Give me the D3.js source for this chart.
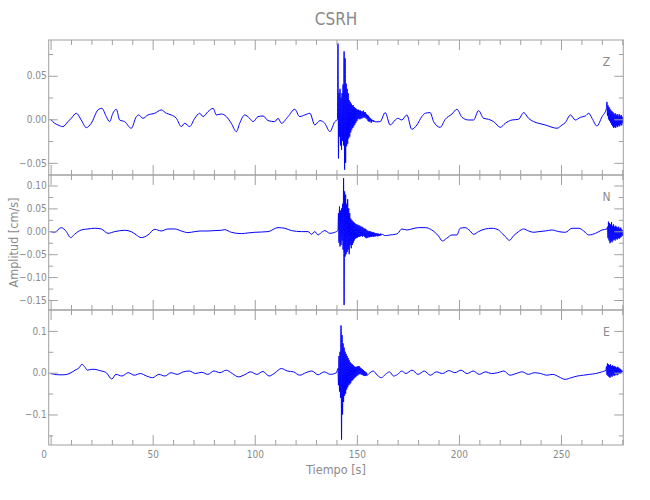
<!DOCTYPE html>
<html>
<head>
<meta charset="utf-8">
<script src="https://cdn.jsdelivr.net/npm/d3@7"></script>
<style>
  html, body { margin: 0; padding: 0; background: #fff; }
  svg text { font-family: 'DejaVu Sans Condensed', 'DejaVu Sans', sans-serif; font-stretch: condensed; fill: #8a8a8a; }
</style>
</head>
<body>
<svg id="chart" width="650" height="500"></svg>
<script>
// ---------------- DATA ----------------
const title = "CSRH";
const xLabel = "Tiempo [s]";
const yLabel = "Amplitud [cm/s]";
const channels = ["Z", "N", "E"];

const xMajorTicks = [0, 50, 100, 150, 200, 250];
const xMinorTicks = [10, 20, 30, 40, 60, 70, 80, 90, 110, 120, 130, 140, 160, 170, 180, 190, 210, 220, 230, 240, 260, 270, 280];

const zMajorTicks = [0.05, 0.00, -0.05];
const zMinorTicks = [0.075, 0.025, -0.025];
const nMajorTicks = [0.10, 0.05, 0.00, -0.05, -0.10, -0.15];
const nMinorTicks = [0.075, 0.025, -0.025, -0.075, -0.125];
const eMajorTicks = [0.1, 0.0, -0.1];
const eMinorTicks = [0.05, -0.05, -0.15];

const zRange = [-0.064, 0.0911];
const nRange = [-0.1718, 0.1229];
const eRange = [-0.173, 0.150];

const sampleStep = 0.25; // s, spacing of densely read segments

// Z component
const zPreT = [0, 2, 3.6, 6, 8.5, 10.1, 12.6, 15, 17.5, 19.9, 23.2, 25.1, 27.3, 28.9, 30.5, 32.2, 33.8, 36.3, 39.5, 42, 43.1, 45.2, 47.7, 51, 54.2, 56.7, 59.1, 61.6, 64, 65.7, 68.1, 70.6, 73, 74.7, 77.1, 79.6, 81.2, 83.6, 86.1, 88.5, 91, 92.6, 95.1, 97.5, 99.2, 101.6, 104.1, 106.5, 109.8, 111.4, 113.1, 116.3, 119.6, 122, 124.5, 127, 129.4, 131.9, 134.3, 136.8, 139.2];
const zPreA = [0.0, -0.0046, -0.0065, -0.0084, -0.0027, 0.0011, 0.0069, -0.0008, -0.0096, -0.0046, 0.0107, 0.0126, 0.0031, -0.0027, 0.0069, 0.0115, -0.0008, -0.0027, -0.0103, 0.0031, 0.005, 0.0011, 0.005, 0.0069, 0.0107, 0.0069, 0.005, 0.0011, -0.0084, -0.0046, -0.0084, 0.0011, 0.0069, 0.0031, 0.0088, 0.0126, 0.005, 0.0061, 0.0031, -0.0046, -0.0142, -0.0046, 0.005, 0.0011, -0.0027, 0.0031, 0.0038, -0.0015, -0.0027, 0.0011, -0.0046, 0.0031, 0.0115, 0.0031, 0.005, 0.0069, -0.0065, -0.0015, -0.0046, -0.0142, -0.0027];
const zEventStart = 140.5;
const zEvent = [0.000, 0.087, -0.045, 0.030, -0.020, 0.035, -0.030, 0.025, -0.035, 0.030, -0.025, 0.040, -0.030, 0.078, -0.058, 0.070, -0.050, 0.041, -0.031, 0.035, -0.028, 0.030, -0.022, 0.022, -0.020, 0.020, -0.015, 0.018, -0.012, 0.016, -0.010, 0.016, -0.008, 0.014, -0.006, 0.013, -0.004, 0.012, -0.002, 0.011, 0.000, 0.011, 0.001, 0.010, 0.000, 0.010, 0.001, 0.009, 0.001, 0.009, 0.002, 0.010, 0.002, 0.008, 0.002, 0.008, 0.001, 0.006, 0.000, 0.005, -0.002, 0.004, -0.003, 0.002, -0.002, 0.001, -0.004, 0.000, -0.002, -0.001, -0.003, -0.001, -0.003, -0.002, -0.003];
const zPostT = [161.4, 163.9, 166.3, 168.8, 170.1, 172, 174.5, 176.9, 179.4, 181.8, 183.5, 185.9, 187.6, 190.8, 193.3, 196.6, 199, 201.5, 204.7, 207.2, 209.6, 212.1, 214.5, 217, 220.3, 222.7, 226, 229.2, 231.7, 234.1, 236.6, 239, 242.3, 245.6, 248, 250.5, 252.1, 254.6, 257, 259.5, 261.9, 263.6, 265.2, 267.6, 270.1, 272.2];
const zPostA = [-0.0027, 0.0077, -0.0065, -0.0008, 0.0011, -0.0008, 0.005, -0.0115, -0.0065, 0.0031, 0.0069, 0.0077, -0.0027, -0.0092, 0.0, 0.0061, 0.0115, 0.0023, -0.0008, -0.0008, 0.010, 0.0011, 0.0, -0.0027, -0.0092, -0.0046, -0.0008, 0.0, 0.0077, 0.0011, -0.0027, -0.0046, -0.0065, -0.0092, -0.0103, -0.0065, -0.0038, 0.005, -0.0008, 0.0023, 0.0038, 0.0069, 0.0011, -0.0077, 0.0031, 0.012];
const zTailStart = 272.5;
const zTail = [0.020, 0.004, 0.016, 0.000, 0.014, -0.002, 0.012, -0.004, 0.010, -0.006, 0.009, -0.008, 0.008, -0.010, 0.006, -0.009, 0.007, -0.010, 0.005, -0.008, 0.006, -0.009, 0.004, -0.007, 0.006, -0.008, 0.004, -0.006, 0.005, -0.007, 0.003, -0.004, 0.001];

// N component
const nPreT = [0, 1.9, 5.2, 7.7, 9.8, 11.7, 15, 18.3, 21.6, 24.8, 28.1, 31.4, 36.3, 39.5, 42, 44.4, 47.7, 51, 54.2, 57.5, 60.8, 64, 67.3, 70.6, 73.8, 77.1, 80.4, 83.6, 85.3, 88.5, 93.5, 96.7, 100, 106.5, 111.4, 114.7, 118, 122.9, 126.1, 127.8, 129.4, 131, 132.7, 134.3, 136.8, 139.2];
const nPreA = [-0.0007, -0.0022, 0.008, -0.0007, -0.0138, -0.0066, 0.0029, 0.0051, 0.0066, 0.0051, -0.0044, -0.0007, 0.0022, -0.0007, -0.008, -0.0138, -0.008, 0.0044, 0.0007, 0.0051, 0.0051, 0.0007, -0.0029, -0.0007, 0.0007, 0.0007, 0.0015, 0.0022, 0.0036, -0.0022, -0.0051, -0.0036, -0.0022, -0.0007, 0.008, 0.0066, 0.0015, -0.0007, -0.0007, -0.0066, -0.0007, -0.008, -0.0022, 0.0015, -0.0044, -0.0022];
const nEventStart = 140.75;
const nEvent = [0.002, 0.040, -0.025, 0.054, -0.033, 0.045, -0.030, 0.050, -0.020, 0.060, -0.040, 0.116, -0.161, 0.087, -0.055, 0.080, -0.050, 0.060, -0.045, 0.070, -0.040, 0.050, -0.050, 0.040, -0.030, 0.028, -0.037, 0.025, -0.030, 0.022, -0.025, 0.020, -0.020, 0.018, -0.016, 0.016, -0.015, 0.015, -0.014, 0.014, -0.012, 0.013, -0.012, 0.012, -0.011, 0.010, -0.010, 0.010, -0.012, 0.008, -0.010, 0.006, -0.012, 0.006, -0.014, 0.004, -0.015, 0.002, -0.014, 0.001, -0.013, 0.000, -0.013, 0.000, -0.012, -0.001, -0.012, -0.002, -0.011, -0.002, -0.012, -0.003, -0.011, -0.004, -0.011, -0.004, -0.010, -0.005, -0.011, -0.005, -0.010, -0.006, -0.010, -0.005, -0.009, -0.006];
const nPostT = [163.9, 166.3, 168.8, 170.1, 172, 174.5, 176.9, 180.1, 183.5, 186.7, 190, 191.9, 194, 196.6, 199, 200.6, 203, 205.5, 207.2, 209.6, 212.9, 216.2, 219.4, 221.1, 222.7, 224.7, 226.8, 229.2, 231.7, 234.1, 236.6, 239, 242.3, 245.6, 248.9, 252.1, 255.4, 258.7, 261.1, 263.6, 266.9, 270.1, 272.5];
const nPostA = [-0.0095, -0.008, -0.0066, -0.0044, 0.0051, 0.0029, 0.0051, 0.008, 0.008, 0.0029, -0.0102, -0.0211, -0.0153, -0.008, -0.008, 0.0066, 0.008, 0.0007, -0.0066, -0.0007, 0.0051, 0.0066, 0.0029, -0.0044, -0.0116, -0.0197, -0.0095, -0.0007, 0.0051, 0.0007, -0.0022, -0.0007, 0.0007, 0.0029, -0.0007, -0.0022, 0.0066, 0.0066, 0.0007, -0.008, -0.0044, 0.0029, 0.0051];
const nTailStart = 272.75;
const nTail = [0.010, -0.015, 0.021, -0.020, 0.018, -0.026, 0.015, -0.022, 0.020, -0.024, 0.012, -0.020, 0.015, -0.018, 0.010, -0.020, 0.012, -0.016, 0.010, -0.018, 0.008, -0.015, 0.010, -0.016, 0.006, -0.014, 0.008, -0.012, 0.004, -0.010, 0.002, -0.006];

// E component
const ePreT = [0, 2, 4, 6, 8, 10, 12, 14, 15.3, 17, 18, 20, 21.7, 24, 27, 30, 32, 35, 38, 41, 44, 47, 50, 53, 56, 59, 62, 65, 68, 71, 74, 77, 80, 83, 86, 89, 92, 95, 98, 101, 104, 107, 110, 113, 116, 119, 122, 125, 128, 131, 134, 137, 140];
const ePreA = [-0.002, -0.004, -0.005, -0.005, -0.004, 0.000, 0.006, 0.012, 0.020, 0.012, 0.006, 0.008, 0.008, 0.005, 0.001, -0.015, -0.004, -0.008, 0.000, -0.006, -0.002, -0.008, -0.012, -0.004, -0.008, 0.000, -0.004, 0.002, 0.004, -0.002, 0.001, -0.004, 0.004, 0.000, 0.006, -0.002, -0.010, -0.005, 0.002, -0.004, 0.003, -0.008, 0.000, 0.010, 0.004, 0.002, -0.006, 0.000, 0.004, -0.005, 0.002, -0.004, 0.000];
const eEventStart = 140.75;
const eEvent = [0.010, -0.030, 0.040, -0.045, 0.050, -0.060, 0.113, -0.160, 0.090, -0.100, 0.070, -0.070, 0.060, -0.055, 0.050, -0.050, 0.045, -0.040, 0.040, -0.035, 0.035, -0.030, 0.030, -0.028, 0.025, -0.025, 0.022, -0.020, 0.020, -0.018, 0.018, -0.015, 0.015, -0.012, 0.014, -0.010, 0.014, -0.008, 0.015, -0.006, 0.016, -0.004, 0.015, -0.003, 0.012, -0.004, 0.010, -0.005, 0.008, -0.006, 0.006, -0.008, 0.004, -0.008, 0.002, -0.008, 0.000, -0.006];
const ePostT = [156, 158, 160, 162, 164, 166, 168, 170, 172, 174, 177, 180, 183, 186, 189, 192, 195, 198, 201, 204, 207, 210, 213, 216, 219, 222, 225, 228, 231, 234, 237, 240, 243, 246, 249, 252, 255, 258, 261, 264, 267, 270, 272];
const ePostA = [-0.002, 0.004, -0.006, -0.012, -0.004, 0.002, -0.008, -0.004, 0.004, -0.002, 0.006, -0.004, 0.004, -0.006, 0.002, -0.002, 0.005, 0.000, 0.006, -0.002, 0.004, -0.004, 0.002, -0.002, 0.000, 0.004, -0.006, -0.002, 0.002, -0.004, 0.000, -0.002, -0.006, -0.004, -0.010, -0.016, -0.012, -0.008, -0.006, -0.004, -0.002, 0.002, 0.006];
const eTailStart = 272.25;
const eTail = [0.015, -0.005, 0.022, -0.008, 0.020, -0.010, 0.018, -0.012, 0.020, -0.008, 0.016, -0.010, 0.018, -0.006, 0.015, -0.008, 0.016, -0.006, 0.014, -0.004, 0.012, -0.006, 0.014, -0.004, 0.012, -0.002, 0.010, -0.002, 0.008, 0.000, 0.006, 0.002, 0.004];

// ---------------- BUILD ----------------
function pairs(ts, as) { return ts.map((t, i) => [t, as[i]]); }
function dense(start, as) { return as.map((a, i) => [start + i * sampleStep, a]); }
function series(preT, preA, evStart, ev, postT, postA, tailStart, tail) {
  return [].concat(pairs(preT, preA), dense(evStart, ev), pairs(postT, postA), dense(tailStart, tail))
    .sort((a, b) => a[0] - b[0]);
}
const zData = series(zPreT, zPreA, zEventStart, zEvent, zPostT, zPostA, zTailStart, zTail);
const nData = series(nPreT, nPreA, nEventStart, nEvent, nPostT, nPostA, nTailStart, nTail);
const eData = series(ePreT, ePreA, eEventStart, eEvent, ePostT, ePostA, eTailStart, eTail);

const panels = [
  { name: channels[0], data: zData, range: zRange, major: zMajorTicks, minor: zMinorTicks, fmt: d3.format(".2f") },
  { name: channels[1], data: nData, range: nRange, major: nMajorTicks, minor: nMinorTicks, fmt: d3.format(".2f") },
  { name: channels[2], data: eData, range: eRange, major: eMajorTicks, minor: eMinorTicks, fmt: d3.format(".1f") }
];

const svg = d3.select("#chart");
const left = 48.7, right = 623.3, top0 = 40, panelH = 135;
const frameColor = "#a0a0a0";
const x = d3.scaleLinear().domain([-0.93, 280.5]).range([left, right]);
const fmtMinus = s => s.replace("-", "\u2212");

panels.forEach((p, i) => {
  const y0 = top0 + i * panelH, y1 = y0 + panelH;
  const y = d3.scaleLinear().domain(p.range).range([y1, y0]);
  const g = svg.append("g");

  const cid = "clip" + i;
  svg.append("clipPath").attr("id", cid).append("rect")
    .attr("x", left).attr("y", y0).attr("width", right - left).attr("height", panelH);

  g.append("path").datum(p.data)
    .attr("clip-path", `url(#${cid})`)
    .attr("fill", "none").attr("stroke", "#0000ff").attr("stroke-width", 1)
    .attr("stroke-linejoin", "round")
    .attr("d", d3.line().curve(d3.curveMonotoneX).x(d => x(d[0])).y(d => y(d[1])));

  g.append("g").attr("transform", `translate(${left},0)`)
    .call(d3.axisLeft(y).tickValues(p.major).tickSize(-9).tickPadding(2).tickFormat(d => fmtMinus(p.fmt(d))));
  g.append("g").attr("transform", `translate(${left},0)`)
    .call(d3.axisLeft(y).tickValues(p.minor).tickSize(-4.5).tickFormat(""));
  g.append("g").attr("transform", `translate(${right},0)`)
    .call(d3.axisRight(y).tickValues(p.major).tickSize(-9).tickFormat(""));
  g.append("g").attr("transform", `translate(${right},0)`)
    .call(d3.axisRight(y).tickValues(p.minor).tickSize(-4.5).tickFormat(""));

  const xb = g.append("g").attr("transform", `translate(0,${y1})`)
    .call(d3.axisBottom(x).tickValues(xMajorTicks).tickSize(-10).tickPadding(6)
      .tickFormat(i === panels.length - 1 ? d3.format("d") : ""));
  g.append("g").attr("transform", `translate(0,${y1})`)
    .call(d3.axisBottom(x).tickValues(xMinorTicks).tickSize(-5).tickFormat(""));
  g.append("g").attr("transform", `translate(0,${y0})`)
    .call(d3.axisTop(x).tickValues(xMajorTicks).tickSize(-10).tickFormat(""));
  g.append("g").attr("transform", `translate(0,${y0})`)
    .call(d3.axisTop(x).tickValues(xMinorTicks).tickSize(-5).tickFormat(""));

  if (i === panels.length - 1) {
    xb.selectAll(".tick text").filter(d => d === 0).attr("dx", -7);
  }

  g.append("rect").attr("x", left).attr("y", y0).attr("width", right - left).attr("height", panelH)
    .attr("fill", "none").attr("stroke", frameColor).attr("stroke-width", 1);

  g.append("text").attr("x", 606.5).attr("y", y0 + 25.7).attr("text-anchor", "middle")
    .attr("font-size", 12).text(p.name);
});

svg.selectAll(".domain").remove();
svg.selectAll(".tick line").attr("stroke", frameColor);
svg.selectAll(".tick text").attr("font-size", 10).attr("fill", "#8a8a8a")
  .attr("font-family", "'DejaVu Sans Condensed', 'DejaVu Sans', sans-serif");

svg.append("text").attr("x", (left + right) / 2).attr("y", 25).attr("text-anchor", "middle")
  .attr("font-size", 17).text(title);
svg.append("text").attr("x", (left + right) / 2).attr("y", 474).attr("text-anchor", "middle")
  .attr("font-size", 12.5).text(xLabel);
svg.append("text").attr("transform", `translate(18,${top0 + 1.5 * panelH}) rotate(-90)`)
  .attr("text-anchor", "middle").attr("font-size", 12.5).text(yLabel);
</script>
</body>
</html>
